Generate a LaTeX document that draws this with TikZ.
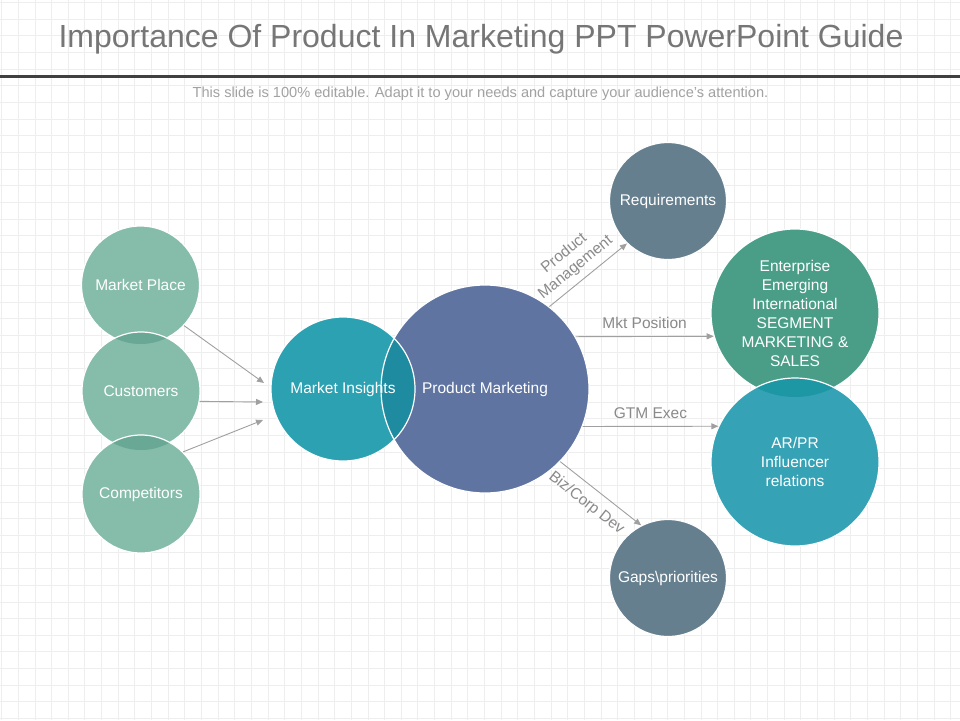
\documentclass[tikz,border=0pt]{standalone}
\usepackage{fontspec}
\setmainfont{Liberation Sans}
\usetikzlibrary{arrows.meta}
\definecolor{gridline}{HTML}{EEEEEE}
\definecolor{titlegray}{HTML}{767676}
\definecolor{subgray}{HTML}{A2A2A2}
\definecolor{rulegray}{HTML}{404040}
\definecolor{linkgray}{HTML}{A0A0A0}
\definecolor{taggray}{HTML}{8A8A8A}
\definecolor{mint}{HTML}{86BCAA}
\definecolor{mintlens}{HTML}{69A894}
\definecolor{insight}{HTML}{2BA1B2}
\definecolor{pmblue}{HTML}{5F74A1}
\definecolor{pmlens}{HTML}{1F8BA0}
\definecolor{slate}{HTML}{667F8F}
\definecolor{entgreen}{HTML}{4A9E87}
\definecolor{arteal}{HTML}{36A2B5}
\definecolor{entlens}{HTML}{1E97A5}
\begin{document}
\begin{tikzpicture}[x=1pt,y=-1pt,
		bubble/.style={circle,draw=white,line width=1.2pt,inner sep=0pt,text=white,align=center,font=\fontsize{15.5}{19}\selectfont},
		lens/.style n args={3}{path picture={\fill[#3] (#1.center) circle (#2);}},
		link/.style={draw=linkgray,line width=0.9pt,-{Triangle[length=7pt,width=6pt]}},
		tag/.style={text=taggray,font=\fontsize{15.5}{18}\selectfont,align=center,inner sep=3pt}]
	\useasboundingbox (0,0) rectangle (960,720);
	\fill[white] (0,0) rectangle (960,720);
	% background grid
	\foreach \x in {1.6,18.25,...,960} {
		\draw[gridline,line width=0.8pt] (\x,0) -- (\x,720);
	};
	\foreach \y in {2.5,19.15,...,720} {
		\draw[gridline,line width=0.8pt] (0,\y) -- (960,\y);
	};
	% heading
	\node[anchor=base,text=titlegray,font=\fontsize{32}{36}\selectfont] (title) at (481,47) {Importance Of Product In Marketing PPT PowerPoint Guide};
	\draw[rulegray,line width=3pt] (0,76) -- (960,76);
	\node[anchor=base,text=subgray,font=\fontsize{14.6}{17}\selectfont] (sub) at (480.5,97) {This slide is 100\% editable. Adapt it to your needs and capture your audience's attention.};
	% inputs
	\node[bubble,minimum size=118pt,fill=mint] (mp) at (140.5,285) {Market Place};
	\node[bubble,minimum size=118pt,fill=mint,lens={mp}{59pt}{mintlens}] (cu) at (141,391) {Customers};
	\node[bubble,minimum size=118pt,fill=mint,lens={cu}{59pt}{mintlens}] (co) at (141,494) {Competitors};
	% core
	\node[bubble,minimum size=208pt,fill=pmblue] (pm) at (485,389) {Product Marketing};
	\node[bubble,minimum size=144pt,fill=insight,path picture={
			\fill[pmlens] (pm.center) circle (104pt);
			\draw[white,line width=1.2pt] (pm.center) circle (104pt);}] (mi) at (343,389) {Market Insights};
	% outputs
	\node[bubble,minimum size=117pt,fill=slate] (req) at (668,201) {Requirements};
	\node[bubble,minimum size=168pt,fill=entgreen] (ent) at (795,313) {Enterprise\\Emerging\\International\\SEGMENT\\MARKETING \&\\SALES};
	\node[bubble,minimum size=168pt,fill=arteal,lens={ent}{84pt}{entlens}] (ar) at (795,462) {AR/PR\\Influencer\\relations};
	\node[bubble,minimum size=117pt,fill=slate] (gap) at (668,578) {Gaps\textbackslash priorities};
	% arrows into market insights
	\coordinate (in1) at (264,383);
	\coordinate (in2) at (263,402);
	\coordinate (in3) at (263,420);
	\draw[link] (mp.-43) -- (in1);
	\draw[link] (cu.-10.7) -- (in2);
	\draw[link] (co.45.7) -- (in3);
	% arrows out of product marketing
	\draw[link] (pm.52) -- node[tag,sloped,above,inner sep=6pt,pos=0.45] {Product\\Management} (req.226);
	\draw[link] (pm.30) -- node[tag,above,inner sep=7pt] {Mkt Position} (ent.196);
	\draw[link] (pm.-21) -- node[tag,above,inner sep=7pt] {GTM Exec} (ar.155.5);
	\draw[link] (pm.-44.2) -- node[tag,sloped,below,inner sep=9pt,pos=0.45] {Biz/Corp Dev} (gap.117);
\end{tikzpicture}
\end{document}
